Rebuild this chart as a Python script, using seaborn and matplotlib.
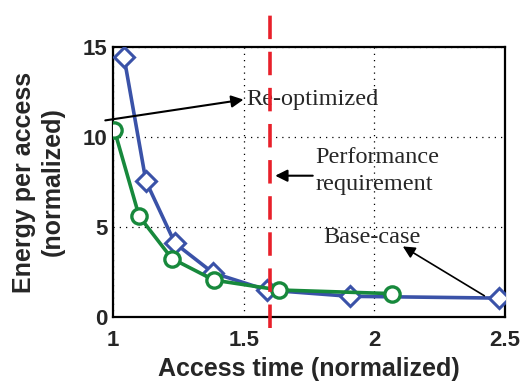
import matplotlib
matplotlib.use("Agg")
import matplotlib.pyplot as plt
import seaborn as sns
import pandas as pd

base_x = [1.042, 1.126, 1.237, 1.383, 1.588, 1.907, 2.477]
base_y = [14.45, 7.55, 4.1, 2.45, 1.5, 1.15, 1.05]
reopt_x = [1.005, 1.10, 1.225, 1.386, 1.636, 2.066]
reopt_y = [10.4, 5.6, 3.25, 2.05, 1.5, 1.3]
perf_req = 1.6
xticks = [1, 1.5, 2, 2.5]
yticks = [0, 5, 10, 15]

sns.set_theme(style="white")
plt.rcParams['font.family'] = ['Liberation Sans', 'DejaVu Sans']

fig = plt.figure(figsize=(5.24, 3.86), dpi=100)
ax = fig.add_axes([113/524, 1-317/386, 392/524, 270/386])

df_b = pd.DataFrame({"x": base_x, "y": base_y})
df_r = pd.DataFrame({"x": reopt_x, "y": reopt_y})
sns.lineplot(data=df_b, x="x", y="y", ax=ax, color="#3A52A8", lw=2.6, marker="D",
             markersize=10, markerfacecolor="white", markeredgecolor="#3A52A8",
             markeredgewidth=2.2, sort=False, zorder=3)
sns.lineplot(data=df_r, x="x", y="y", ax=ax, color="#17893C", lw=2.6, marker="o",
             markersize=11, markerfacecolor="white", markeredgecolor="#17893C",
             markeredgewidth=2.4, sort=False, zorder=4)
ax.axvline(perf_req, color="#E8202A", lw=2.6, ls=(0, (6.5, 3.5)), ymin=-0.04, ymax=1.15,
           clip_on=False, zorder=5)

ax.set_xlim(1, 2.5)
ax.set_ylim(0, 15)
ax.set_xticks(xticks)
ax.set_xticklabels(["1", "1.5", "2", "2.5"])
ax.set_yticks(yticks)
ax.tick_params(labelsize=16, direction="in", length=4, width=1.2)
ax.tick_params(axis="x", pad=9)
ax.tick_params(axis="y", pad=4)
for lab in ax.get_xticklabels() + ax.get_yticklabels():
    lab.set_fontweight("bold")
ax.grid(True, color="black", ls=(0, (1, 4)), lw=0.9)
for s in ax.spines.values():
    s.set_color("black")
    s.set_linewidth(1.6)
ax.set_xlabel("Access time (normalized)", fontsize=18, fontweight="bold", labelpad=5)
ax.set_ylabel("Energy per access\n(normalized)", fontsize=18, fontweight="bold", labelpad=13,
              linespacing=1.25)

serif = dict(family=["Liberation Serif", "DejaVu Serif"], fontsize=17.5)
ax.annotate("", xy=(1.51, 12.1), xytext=(0.96, 10.9), annotation_clip=False,
            arrowprops=dict(arrowstyle="-|>", color="black", lw=1.5, mutation_scale=18))
ax.text(1.51, 12.1, "Re-optimized", va="center", ha="left", **serif)
ax.annotate("", xy=(1.61, 7.85), xytext=(1.775, 7.85),
            arrowprops=dict(arrowstyle="-|>", color="black", lw=1.5, mutation_scale=18))
ax.text(1.775, 8.85, "Performance", va="center", ha="left", **serif)
ax.text(1.775, 7.35, "requirement", va="center", ha="left", **serif)
ax.text(1.805, 4.4, "Base-case", va="center", ha="left", **serif)
ax.annotate("", xy=(2.1, 4.0), xytext=(2.43, 1.1),
            arrowprops=dict(arrowstyle="-|>", color="black", lw=1.2, mutation_scale=18))

fig.savefig("out.png", dpi=100)
